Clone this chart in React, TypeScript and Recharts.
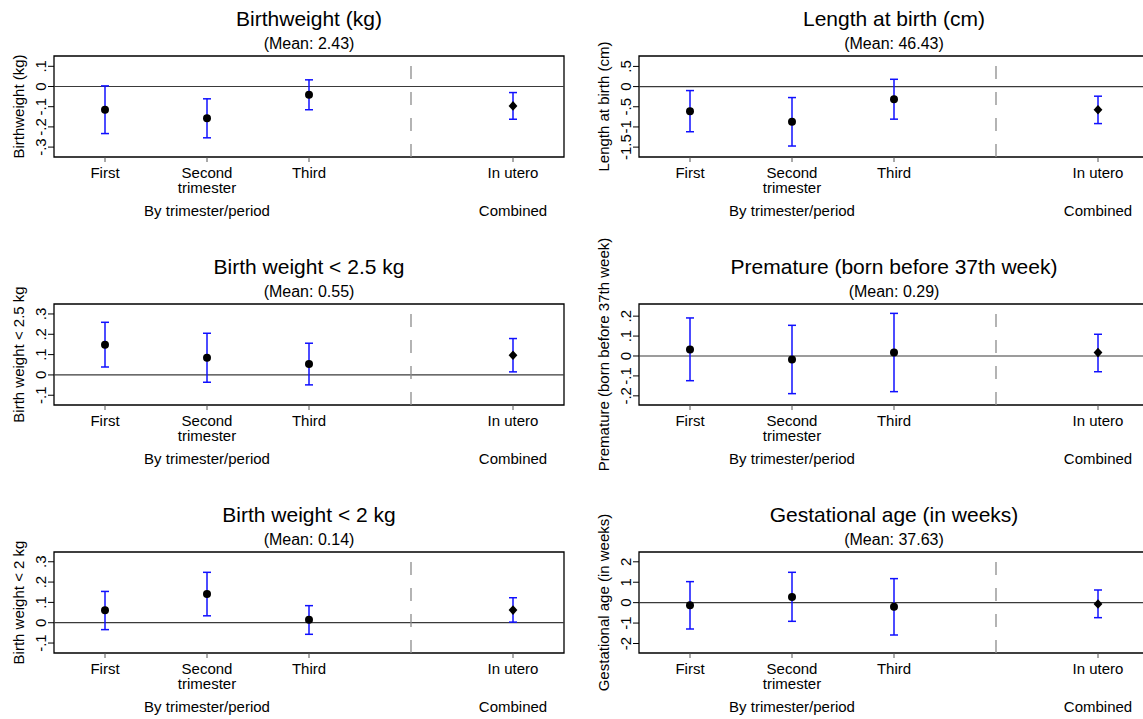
import React from 'react';
import {
  ComposedChart,
  Scatter,
  ErrorBar,
  XAxis,
  YAxis,
  ReferenceLine,
  ReferenceArea,
} from 'recharts';

// categories on the x axis (the gap at 4 holds the dashed separator)
const CATEGORY_X = [1, 2, 3, 5];
const CATEGORY_LABELS = ['First', 'Second\ntrimester', 'Third', 'In utero'];
const CATEGORY_KIND = ['period', 'period', 'period', 'combined'];
const GROUP_X = [2, 5];
const GROUP_LABELS = ['By trimester/period', 'Combined'];
const SPLIT_X = 4;

// Birthweight (kg)
const BW_EST = [-0.115, -0.157, -0.041, -0.096];
const BW_LO = [-0.233, -0.254, -0.115, -0.162];
const BW_HI = [0.003, -0.061, 0.033, -0.03];
const BW_TICKS = [-0.3, -0.2, -0.1, 0, 0.1];
const BW_TICK_LABELS = ['-.3', '-.2', '-.1', '0', '.1'];

// Length at birth (cm)
const LEN_EST = [-0.609, -0.872, -0.313, -0.573];
const LEN_LO = [-1.119, -1.473, -0.807, -0.917];
const LEN_HI = [-0.099, -0.272, 0.181, -0.238];
const LEN_TICKS = [-1.5, -1, -0.5, 0, 0.5];
const LEN_TICK_LABELS = ['-1.5', '-1', '-.5', '0', '.5'];

// Birth weight < 2.5 kg
const LBW_EST = [0.148, 0.085, 0.054, 0.097];
const LBW_LO = [0.039, -0.036, -0.049, 0.015];
const LBW_HI = [0.259, 0.205, 0.156, 0.179];
const LBW_TICKS = [-0.1, 0, 0.1, 0.2, 0.3];
const LBW_TICK_LABELS = ['-.1', '0', '.1', '.2', '.3'];

// Premature (born before 37th week)
const PRE_EST = [0.033, -0.017, 0.017, 0.017];
const PRE_LO = [-0.124, -0.189, -0.179, -0.079];
const PRE_HI = [0.191, 0.154, 0.214, 0.109];
const PRE_TICKS = [-0.2, -0.1, 0, 0.1, 0.2];
const PRE_TICK_LABELS = ['-.2', '-.1', '0', '.1', '.2'];

// Birth weight < 2 kg
const VLBW_EST = [0.061, 0.141, 0.015, 0.062];
const VLBW_LO = [-0.034, 0.034, -0.057, 0.003];
const VLBW_HI = [0.154, 0.248, 0.084, 0.123];
const VLBW_TICKS = [-0.1, 0, 0.1, 0.2, 0.3];
const VLBW_TICK_LABELS = ['-.1', '0', '.1', '.2', '.3'];

// Gestational age (in weeks)
const GA_EST = [-0.131, 0.278, -0.196, -0.065];
const GA_LO = [-1.29, -0.914, -1.584, -0.735];
const GA_HI = [1.029, 1.486, 1.176, 0.62];
const GA_TICKS = [-2, -1, 0, 1, 2];
const GA_TICK_LABELS = ['-2', '-1', '0', '1', '2'];

const FONT = '"Liberation Sans", Arial, Helvetica, sans-serif';
const PLOT_W = 510;
const PLOT_H = 101;
const Y_AXIS_W = 54;
const TOP_PAD = 70;
const X_AXIS_H = 72;
const ROW_TOPS = [56, 304, 552];
const COL_LEFTS = [0, 585];

const PANELS = [
  { title: 'Birthweight (kg)', mean: '(Mean: 2.43)', yTitle: 'Birthweight (kg)', est: BW_EST, lo: BW_LO, hi: BW_HI, ticks: BW_TICKS, tickLabels: BW_TICK_LABELS, domain: [-0.349, 0.151], row: 0, col: 0 },
  { title: 'Length at birth (cm)', mean: '(Mean: 46.43)', yTitle: 'Length at birth (cm)', est: LEN_EST, lo: LEN_LO, hi: LEN_HI, ticks: LEN_TICKS, tickLabels: LEN_TICK_LABELS, domain: [-1.745, 0.758], row: 0, col: 1 },
  { title: 'Birth weight < 2.5 kg', mean: '(Mean: 0.55)', yTitle: 'Birth weight < 2.5 kg', est: LBW_EST, lo: LBW_LO, hi: LBW_HI, ticks: LBW_TICKS, tickLabels: LBW_TICK_LABELS, domain: [-0.148, 0.349], row: 1, col: 0 },
  { title: 'Premature (born before 37th week)', mean: '(Mean: 0.29)', yTitle: 'Premature (born before 37th week)', est: PRE_EST, lo: PRE_LO, hi: PRE_HI, ticks: PRE_TICKS, tickLabels: PRE_TICK_LABELS, domain: [-0.246, 0.261], row: 1, col: 1 },
  { title: 'Birth weight < 2 kg', mean: '(Mean: 0.14)', yTitle: 'Birth weight < 2 kg', est: VLBW_EST, lo: VLBW_LO, hi: VLBW_HI, ticks: VLBW_TICKS, tickLabels: VLBW_TICK_LABELS, domain: [-0.149, 0.348], row: 2, col: 0 },
  { title: 'Gestational age (in weeks)', mean: '(Mean: 37.63)', yTitle: 'Gestational age (in weeks)', est: GA_EST, lo: GA_LO, hi: GA_HI, ticks: GA_TICKS, tickLabels: GA_TICK_LABELS, domain: [-2.465, 2.48], row: 2, col: 1 },
];

function labelFor(values: number[], labels: string[], v: number) {
  const i = values.findIndex((t) => Math.abs(t - v) < 1e-9);
  return i >= 0 ? labels[i] : '';
}

function YTick(props: any) {
  const { x, y, payload, ticks, labels } = props;
  return (
    <text
      x={x}
      y={y}
      transform={`rotate(-90 ${x} ${y})`}
      textAnchor="middle"
      fontFamily={FONT}
      fontSize={15}
      fill="#000"
    >
      {labelFor(ticks, labels, payload.value)}
    </text>
  );
}

// category label (one or two lines) plus the group caption under the tick it is centred on
function XTick(props: any) {
  const { x, y, payload } = props;
  const lines = labelFor(CATEGORY_X, CATEGORY_LABELS, payload.value).split('\n');
  const group = labelFor(GROUP_X, GROUP_LABELS, payload.value);
  return (
    <g>
      <text x={x} y={y + 14} textAnchor="middle" fontFamily={FONT} fontSize={15} fill="#000">
        {lines.map((l, i) => (
          <tspan key={i} x={x} dy={i === 0 ? 0 : 15}>
            {l}
          </tspan>
        ))}
      </text>
      {group && (
        <text x={x} y={y + 52} textAnchor="middle" fontFamily={FONT} fontSize={15} fill="#000">
          {group}
        </text>
      )}
    </g>
  );
}

function Marker(props: any) {
  const { cx, cy, payload } = props;
  if (cx == null || cy == null) return null;
  if (payload && payload.kind === 'combined') {
    return (
      <polygon
        points={`${cx},${cy - 4.8} ${cx + 4.4},${cy} ${cx},${cy + 4.8} ${cx - 4.4},${cy}`}
        fill="#000"
      />
    );
  }
  return <circle cx={cx} cy={cy} r={4} fill="#000" />;
}

function Panel({ p }: { p: (typeof PANELS)[number] }) {
  const rows = CATEGORY_X.map((x, i) => ({
    x,
    y: p.est[i],
    err: [p.est[i] - p.lo[i], p.hi[i] - p.est[i]],
    kind: CATEGORY_KIND[i],
  }));
  const [d0, d1] = p.domain;
  const renderYTitle = (lp: any) => {
    const vb = lp && lp.viewBox ? lp.viewBox : { x: 0, y: TOP_PAD, width: Y_AXIS_W, height: PLOT_H };
    const cx = vb.x + vb.width - 30;
    const cy = vb.y + vb.height / 2;
    return (
      <text
        x={cx}
        y={cy}
        transform={`rotate(-90 ${cx} ${cy})`}
        textAnchor="middle"
        fontFamily={FONT}
        fontSize={15}
        fill="#000"
      >
        {p.yTitle}
      </text>
    );
  };
  return (
    <ComposedChart
      width={Y_AXIS_W + PLOT_W + 6}
      height={TOP_PAD + PLOT_H + X_AXIS_H}
      data={rows}
      margin={{ top: TOP_PAD, right: 6, left: 0, bottom: 0 }}
    >
      <XAxis
        xAxisId="cat"
        type="number"
        dataKey="x"
        domain={[0.5, 5.5]}
        ticks={CATEGORY_X}
        interval={0}
        allowDataOverflow
        height={X_AXIS_H}
        tickSize={5}
        tickMargin={2}
        axisLine={false}
        tickLine={{ stroke: '#555', strokeWidth: 1 }}
        tick={<XTick />}
      />
      <YAxis
        type="number"
        dataKey="y"
        domain={[d0, d1]}
        ticks={p.ticks}
        interval={0}
        allowDataOverflow
        width={Y_AXIS_W}
        tickSize={6}
        tickMargin={2}
        axisLine={false}
        tickLine={{ stroke: '#000', strokeWidth: 1 }}
        tick={<YTick ticks={p.ticks} labels={p.tickLabels} />}
        label={{ content: renderYTitle }}
      />
      <ReferenceLine xAxisId="cat" y={0} stroke="#3a3a3a" strokeWidth={1.2} />
      <ReferenceLine xAxisId="cat" x={SPLIT_X} stroke="#8c8c8c" strokeWidth={1.3} strokeDasharray="13 13" />
      <ReferenceArea
        xAxisId="cat"
        x1={0.5}
        x2={5.5}
        y1={d0}
        y2={d1}
        fill="none"
        fillOpacity={0}
        stroke="#000"
        strokeWidth={1.3}
      />
      <Scatter xAxisId="cat" dataKey="y" isAnimationActive={false} shape={Marker}>
        <ErrorBar
          dataKey="err"
          direction="y"
          width={4}
          stroke="#1010ff"
          strokeWidth={1.5}
          isAnimationActive={false}
        />
      </Scatter>
    </ComposedChart>
  );
}

export default function App() {
  return (
    <div
      style={{
        position: 'fixed',
        left: 0,
        top: 0,
        width: 1143,
        height: 719,
        overflow: 'hidden',
        background: '#fff',
      }}
    >
      {PANELS.map((p, i) => (
        <div
          key={i}
          style={{
            position: 'absolute',
            left: COL_LEFTS[p.col],
            top: ROW_TOPS[p.row] - TOP_PAD,
          }}
        >
          <Panel p={p} />
        </div>
      ))}
      <svg
        width={1143}
        height={719}
        style={{ position: 'absolute', left: 0, top: 0, pointerEvents: 'none' }}
      >
        {PANELS.map((p, i) => {
          const cx = COL_LEFTS[p.col] + Y_AXIS_W + PLOT_W / 2;
          const top = ROW_TOPS[p.row];
          return (
            <g key={i} fontFamily={FONT} fill="#000" textAnchor="middle">
              <text x={cx} y={top - 30} fontSize={21}>
                {p.title}
              </text>
              <text x={cx} y={top - 7} fontSize={16}>
                {p.mean}
              </text>
            </g>
          );
        })}
      </svg>
    </div>
  );
}
